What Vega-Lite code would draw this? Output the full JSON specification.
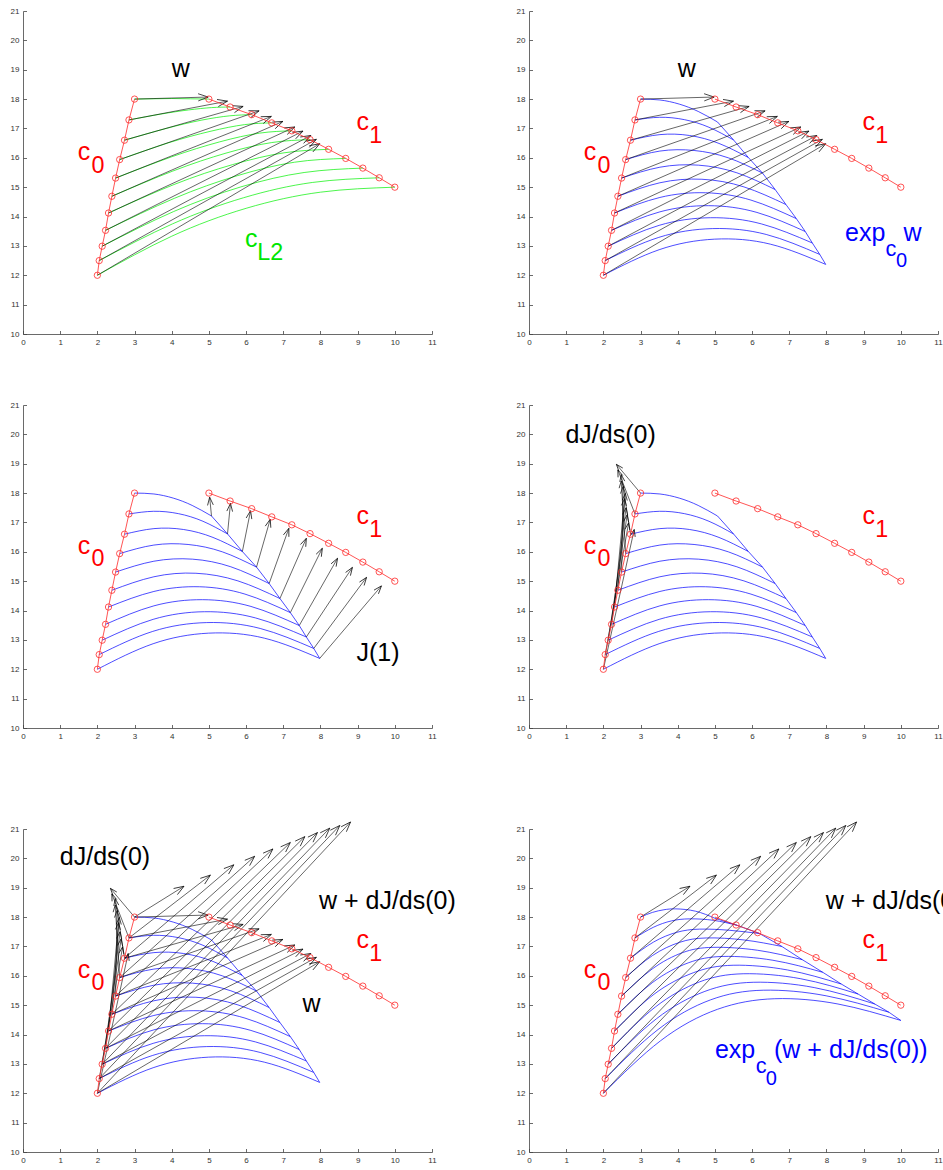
{
"$schema": "https://vega.github.io/schema/vega-lite/v6.json",
"background": "white",
"padding": {"left": 10, "top": 7, "right": 0, "bottom": 0},
"datasets": {
"curves": [
{"curve":"c0","k":0,"x":3.00,"y":18.00},{"curve":"c0","k":1,"x":2.85,"y":17.29},{"curve":"c0","k":2,"x":2.73,"y":16.60},{"curve":"c0","k":3,"x":2.60,"y":15.94},{"curve":"c0","k":4,"x":2.49,"y":15.31},{"curve":"c0","k":5,"x":2.39,"y":14.69},{"curve":"c0","k":6,"x":2.30,"y":14.12},{"curve":"c0","k":7,"x":2.22,"y":13.53},{"curve":"c0","k":8,"x":2.13,"y":12.99},{"curve":"c0","k":9,"x":2.05,"y":12.50},{"curve":"c0","k":10,"x":2.00,"y":12.00},
{"curve":"c1","k":0,"x":5.00,"y":18.00},{"curve":"c1","k":1,"x":5.57,"y":17.73},{"curve":"c1","k":2,"x":6.15,"y":17.47},{"curve":"c1","k":3,"x":6.69,"y":17.19},{"curve":"c1","k":4,"x":7.23,"y":16.92},{"curve":"c1","k":5,"x":7.72,"y":16.62},{"curve":"c1","k":6,"x":8.22,"y":16.29},{"curve":"c1","k":7,"x":8.68,"y":15.98},{"curve":"c1","k":8,"x":9.14,"y":15.65},{"curve":"c1","k":9,"x":9.58,"y":15.32},{"curve":"c1","k":10,"x":10.00,"y":15.00}
],
"w": [
{"k":0,"xt":3.00,"yt":18.00,"x":4.98,"y":18.07},{"k":1,"xt":2.85,"yt":17.29,"x":5.50,"y":17.93},{"k":2,"xt":2.73,"yt":16.60,"x":5.92,"y":17.75},{"k":3,"xt":2.60,"yt":15.94,"x":6.35,"y":17.60},{"k":4,"xt":2.49,"yt":15.31,"x":6.68,"y":17.41},{"k":5,"xt":2.39,"yt":14.69,"x":6.99,"y":17.24},{"k":6,"xt":2.30,"yt":14.12,"x":7.31,"y":17.05},{"k":7,"xt":2.22,"yt":13.53,"x":7.53,"y":16.91},{"k":8,"xt":2.13,"yt":12.99,"x":7.74,"y":16.76},{"k":9,"xt":2.05,"yt":12.50,"x":7.89,"y":16.63},{"k":10,"xt":2.00,"yt":12.00,"x":7.98,"y":16.48}
],
"dj": [
{"k":0,"xt":3.00,"yt":18.00,"x":2.35,"y":18.98},{"k":1,"xt":2.85,"yt":17.29,"x":2.39,"y":18.79},{"k":2,"xt":2.73,"yt":16.60,"x":2.48,"y":18.63},{"k":3,"xt":2.60,"yt":15.94,"x":2.48,"y":18.41},{"k":4,"xt":2.49,"yt":15.31,"x":2.53,"y":18.22},{"k":5,"xt":2.39,"yt":14.69,"x":2.59,"y":17.99},{"k":6,"xt":2.30,"yt":14.12,"x":2.57,"y":17.81},{"k":7,"xt":2.22,"yt":13.53,"x":2.61,"y":17.50},{"k":8,"xt":2.13,"yt":12.99,"x":2.64,"y":17.26},{"k":9,"xt":2.05,"yt":12.50,"x":2.68,"y":16.99},{"k":10,"xt":2.00,"yt":12.00,"x":2.83,"y":16.76}
],
"wdj": [
{"k":0,"xt":3.00,"yt":18.00,"x":4.33,"y":19.05},{"k":1,"xt":2.85,"yt":17.29,"x":5.04,"y":19.43},{"k":2,"xt":2.73,"yt":16.60,"x":5.67,"y":19.78},{"k":3,"xt":2.60,"yt":15.94,"x":6.23,"y":20.07},{"k":4,"xt":2.49,"yt":15.31,"x":6.72,"y":20.32},{"k":5,"xt":2.39,"yt":14.69,"x":7.19,"y":20.54},{"k":6,"xt":2.30,"yt":14.12,"x":7.58,"y":20.74},{"k":7,"xt":2.22,"yt":13.53,"x":7.92,"y":20.88},{"k":8,"xt":2.13,"yt":12.99,"x":8.25,"y":21.03},{"k":9,"xt":2.05,"yt":12.50,"x":8.52,"y":21.12},{"k":10,"xt":2.00,"yt":12.00,"x":8.81,"y":21.24}
],
"jac": [
{"k":0,"xt":5.07,"yt":17.22,"x":5.02,"y":17.86},{"k":1,"xt":5.50,"yt":16.61,"x":5.58,"y":17.65},{"k":2,"xt":5.90,"yt":16.01,"x":6.12,"y":17.40},{"k":3,"xt":6.28,"yt":15.48,"x":6.65,"y":17.11},{"k":4,"xt":6.62,"yt":14.92,"x":7.15,"y":16.80},{"k":5,"xt":6.91,"yt":14.41,"x":7.62,"y":16.46},{"k":6,"xt":7.19,"yt":13.93,"x":8.05,"y":16.12},{"k":7,"xt":7.43,"yt":13.49,"x":8.46,"y":15.78},{"k":8,"xt":7.62,"yt":13.10,"x":8.86,"y":15.47},{"k":9,"xt":7.82,"yt":12.71,"x":9.24,"y":15.13},{"k":10,"xt":7.98,"yt":12.37,"x":9.64,"y":14.84}
],
"green": [
{"k":0,"s":0,"x":3.00,"y":18.00},{"k":0,"s":1,"x":3.50,"y":18.01},{"k":0,"s":2,"x":4.00,"y":18.02},{"k":0,"s":3,"x":4.50,"y":18.01},{"k":0,"s":4,"x":5.00,"y":18.00},
{"k":1,"s":0,"x":2.85,"y":17.29},{"k":1,"s":1,"x":3.71,"y":17.49},{"k":1,"s":2,"x":4.45,"y":17.63},{"k":1,"s":3,"x":5.07,"y":17.71},{"k":1,"s":4,"x":5.57,"y":17.73},
{"k":2,"s":0,"x":2.73,"y":16.60},{"k":2,"s":1,"x":3.85,"y":17.00},{"k":2,"s":2,"x":4.79,"y":17.28},{"k":2,"s":3,"x":5.56,"y":17.43},{"k":2,"s":4,"x":6.15,"y":17.47},
{"k":3,"s":0,"x":2.60,"y":15.94},{"k":3,"s":1,"x":3.91,"y":16.51},{"k":3,"s":2,"x":5.03,"y":16.90},{"k":3,"s":3,"x":5.96,"y":17.13},{"k":3,"s":4,"x":6.69,"y":17.19},
{"k":4,"s":0,"x":2.49,"y":15.31},{"k":4,"s":1,"x":3.99,"y":16.03},{"k":4,"s":2,"x":5.28,"y":16.54},{"k":4,"s":3,"x":6.36,"y":16.84},{"k":4,"s":4,"x":7.23,"y":16.92},
{"k":5,"s":0,"x":2.39,"y":14.69},{"k":5,"s":1,"x":4.03,"y":15.55},{"k":5,"s":2,"x":5.46,"y":16.16},{"k":5,"s":3,"x":6.69,"y":16.52},{"k":5,"s":4,"x":7.72,"y":16.62},
{"k":6,"s":0,"x":2.30,"y":14.12},{"k":6,"s":1,"x":4.06,"y":15.09},{"k":6,"s":2,"x":5.64,"y":15.77},{"k":6,"s":3,"x":7.02,"y":16.17},{"k":6,"s":4,"x":8.22,"y":16.29},
{"k":7,"s":0,"x":2.22,"y":13.53},{"k":7,"s":1,"x":4.07,"y":14.62},{"k":7,"s":2,"x":5.76,"y":15.39},{"k":7,"s":3,"x":7.30,"y":15.85},{"k":7,"s":4,"x":8.68,"y":15.98},
{"k":8,"s":0,"x":2.13,"y":12.99},{"k":8,"s":1,"x":4.05,"y":14.17},{"k":8,"s":2,"x":5.86,"y":15.01},{"k":8,"s":3,"x":7.56,"y":15.50},{"k":8,"s":4,"x":9.14,"y":15.65},
{"k":9,"s":0,"x":2.05,"y":12.50},{"k":9,"s":1,"x":4.02,"y":13.75},{"k":9,"s":2,"x":5.93,"y":14.64},{"k":9,"s":3,"x":7.78,"y":15.16},{"k":9,"s":4,"x":9.58,"y":15.32},
{"k":10,"s":0,"x":2.00,"y":12.00},{"k":10,"s":1,"x":4.00,"y":13.33},{"k":10,"s":2,"x":6.00,"y":14.28},{"k":10,"s":3,"x":8.00,"y":14.83},{"k":10,"s":4,"x":10.00,"y":15.00}
],
"geo1": [
{"k":0,"s":0,"x":3.00,"y":18.00},{"k":0,"s":1,"x":3.52,"y":17.97},{"k":0,"s":2,"x":4.04,"y":17.83},{"k":0,"s":3,"x":4.55,"y":17.58},{"k":0,"s":4,"x":5.07,"y":17.22},
{"k":1,"s":0,"x":2.85,"y":17.29},{"k":1,"s":1,"x":3.51,"y":17.38},{"k":1,"s":2,"x":4.18,"y":17.30},{"k":1,"s":3,"x":4.84,"y":17.04},{"k":1,"s":4,"x":5.50,"y":16.61},
{"k":2,"s":0,"x":2.73,"y":16.60},{"k":2,"s":1,"x":3.52,"y":16.79},{"k":2,"s":2,"x":4.32,"y":16.76},{"k":2,"s":3,"x":5.11,"y":16.49},{"k":2,"s":4,"x":5.90,"y":16.01},
{"k":3,"s":0,"x":2.60,"y":15.94},{"k":3,"s":1,"x":3.52,"y":16.23},{"k":3,"s":2,"x":4.44,"y":16.25},{"k":3,"s":3,"x":5.36,"y":16.00},{"k":3,"s":4,"x":6.28,"y":15.48},
{"k":4,"s":0,"x":2.49,"y":15.31},{"k":4,"s":1,"x":3.52,"y":15.68},{"k":4,"s":2,"x":4.56,"y":15.75},{"k":4,"s":3,"x":5.59,"y":15.49},{"k":4,"s":4,"x":6.62,"y":14.92},
{"k":5,"s":0,"x":2.39,"y":14.69},{"k":5,"s":1,"x":3.52,"y":15.15},{"k":5,"s":2,"x":4.65,"y":15.27},{"k":5,"s":3,"x":5.78,"y":15.01},{"k":5,"s":4,"x":6.91,"y":14.41},
{"k":6,"s":0,"x":2.30,"y":14.12},{"k":6,"s":1,"x":3.52,"y":14.65},{"k":6,"s":2,"x":4.75,"y":14.81},{"k":6,"s":3,"x":5.97,"y":14.56},{"k":6,"s":4,"x":7.19,"y":13.93},
{"k":7,"s":0,"x":2.22,"y":13.53},{"k":7,"s":1,"x":3.52,"y":14.16},{"k":7,"s":2,"x":4.83,"y":14.37},{"k":7,"s":3,"x":6.13,"y":14.14},{"k":7,"s":4,"x":7.43,"y":13.49},
{"k":8,"s":0,"x":2.13,"y":12.99},{"k":8,"s":1,"x":3.50,"y":13.70},{"k":8,"s":2,"x":4.88,"y":13.96},{"k":8,"s":3,"x":6.25,"y":13.75},{"k":8,"s":4,"x":7.62,"y":13.10},
{"k":9,"s":0,"x":2.05,"y":12.50},{"k":9,"s":1,"x":3.49,"y":13.29},{"k":9,"s":2,"x":4.94,"y":13.59},{"k":9,"s":3,"x":6.38,"y":13.39},{"k":9,"s":4,"x":7.82,"y":12.71},
{"k":10,"s":0,"x":2.00,"y":12.00},{"k":10,"s":1,"x":3.50,"y":12.87},{"k":10,"s":2,"x":4.99,"y":13.23},{"k":10,"s":3,"x":6.49,"y":13.06},{"k":10,"s":4,"x":7.98,"y":12.37}
],
"env1": [
{"k":0,"x":5.07,"y":17.22},{"k":1,"x":5.50,"y":16.61},{"k":2,"x":5.90,"y":16.01},{"k":3,"x":6.28,"y":15.48},{"k":4,"x":6.62,"y":14.92},{"k":5,"x":6.91,"y":14.41},{"k":6,"x":7.19,"y":13.93},{"k":7,"x":7.43,"y":13.49},{"k":8,"x":7.62,"y":13.10},{"k":9,"x":7.82,"y":12.71},{"k":10,"x":7.98,"y":12.37}
],
"geo2": [
{"k":0,"s":0,"x":3.00,"y":18.00},{"k":0,"s":1,"x":3.32,"y":18.16},{"k":0,"s":2,"x":3.63,"y":18.25},{"k":0,"s":3,"x":3.95,"y":18.28},{"k":0,"s":4,"x":4.48,"y":18.20},{"k":0,"s":5,"x":5.00,"y":17.96},
{"k":1,"s":0,"x":2.85,"y":17.29},{"k":1,"s":1,"x":3.34,"y":17.65},{"k":1,"s":2,"x":3.83,"y":17.87},{"k":1,"s":3,"x":4.32,"y":17.94},{"k":1,"s":4,"x":4.96,"y":17.89},{"k":1,"s":5,"x":5.60,"y":17.72},
{"k":2,"s":0,"x":2.73,"y":16.60},{"k":2,"s":1,"x":3.35,"y":17.15},{"k":2,"s":2,"x":3.97,"y":17.48},{"k":2,"s":3,"x":4.59,"y":17.59},{"k":2,"s":4,"x":5.40,"y":17.55},{"k":2,"s":5,"x":6.20,"y":17.44},
{"k":3,"s":0,"x":2.60,"y":15.94},{"k":3,"s":1,"x":3.32,"y":16.69},{"k":3,"s":2,"x":4.05,"y":17.14},{"k":3,"s":3,"x":4.77,"y":17.29},{"k":3,"s":4,"x":5.79,"y":17.22},{"k":3,"s":5,"x":6.80,"y":17.00},
{"k":4,"s":0,"x":2.49,"y":15.31},{"k":4,"s":1,"x":3.31,"y":16.23},{"k":4,"s":2,"x":4.13,"y":16.79},{"k":4,"s":3,"x":4.95,"y":16.97},{"k":4,"s":4,"x":6.15,"y":16.87},{"k":4,"s":5,"x":7.35,"y":16.55},
{"k":5,"s":0,"x":2.39,"y":14.69},{"k":5,"s":1,"x":3.33,"y":15.78},{"k":5,"s":2,"x":4.28,"y":16.44},{"k":5,"s":3,"x":5.22,"y":16.66},{"k":5,"s":4,"x":6.56,"y":16.53},{"k":5,"s":5,"x":7.90,"y":16.12},
{"k":6,"s":0,"x":2.30,"y":14.12},{"k":6,"s":1,"x":3.36,"y":15.37},{"k":6,"s":2,"x":4.43,"y":16.11},{"k":6,"s":3,"x":5.49,"y":16.36},{"k":6,"s":4,"x":6.95,"y":16.20},{"k":6,"s":5,"x":8.40,"y":15.72},
{"k":7,"s":0,"x":2.22,"y":13.53},{"k":7,"s":1,"x":3.40,"y":14.94},{"k":7,"s":2,"x":4.58,"y":15.79},{"k":7,"s":3,"x":5.76,"y":16.07},{"k":7,"s":4,"x":7.31,"y":15.90},{"k":7,"s":5,"x":8.85,"y":15.38},
{"k":8,"s":0,"x":2.13,"y":12.99},{"k":8,"s":1,"x":3.43,"y":14.54},{"k":8,"s":2,"x":4.73,"y":15.47},{"k":8,"s":3,"x":6.03,"y":15.78},{"k":8,"s":4,"x":7.67,"y":15.60},{"k":8,"s":5,"x":9.30,"y":15.04},
{"k":9,"s":0,"x":2.05,"y":12.50},{"k":9,"s":1,"x":3.47,"y":14.17},{"k":9,"s":2,"x":4.88,"y":15.18},{"k":9,"s":3,"x":6.30,"y":15.51},{"k":9,"s":4,"x":7.99,"y":15.32},{"k":9,"s":5,"x":9.68,"y":14.76},
{"k":10,"s":0,"x":2.00,"y":12.00},{"k":10,"s":1,"x":3.54,"y":13.79},{"k":10,"s":2,"x":5.07,"y":14.86},{"k":10,"s":3,"x":6.61,"y":15.22},{"k":10,"s":4,"x":8.31,"y":15.04},{"k":10,"s":5,"x":10.00,"y":14.48}
],
"env2": [
{"k":0,"x":5.00,"y":17.96},{"k":1,"x":5.60,"y":17.72},{"k":2,"x":6.20,"y":17.44},{"k":3,"x":6.80,"y":17.00},{"k":4,"x":7.35,"y":16.55},{"k":5,"x":7.90,"y":16.12},{"k":6,"x":8.40,"y":15.72},{"k":7,"x":8.85,"y":15.38},{"k":8,"x":9.30,"y":15.04},{"k":9,"x":9.68,"y":14.76},{"k":10,"x":10.00,"y":14.48}
],
"labels": [
{"p":1,"t":"w","x":4.00,"y":18.76,"series":"vec","kind":"main"},
{"p":1,"t":"c","x":1.47,"y":15.91,"series":"c","kind":"main"},{"p":1,"t":"0","x":1.84,"y":15.48,"series":"c","kind":"sub"},
{"p":1,"t":"c","x":8.97,"y":16.94,"series":"c","kind":"main"},{"p":1,"t":"1","x":9.31,"y":16.51,"series":"c","kind":"sub"},
{"p":1,"t":"c","x":5.97,"y":12.96,"series":"L2","kind":"main"},{"p":1,"t":"L2","x":6.30,"y":12.52,"series":"L2","kind":"sub"},
{"p":2,"t":"w","x":4.00,"y":18.76,"series":"vec","kind":"main"},
{"p":2,"t":"c","x":1.47,"y":15.91,"series":"c","kind":"main"},{"p":2,"t":"0","x":1.84,"y":15.48,"series":"c","kind":"sub"},
{"p":2,"t":"c","x":8.97,"y":16.94,"series":"c","kind":"main"},{"p":2,"t":"1","x":9.31,"y":16.51,"series":"c","kind":"sub"},
{"p":2,"t":"exp","x":8.50,"y":13.18,"series":"exp","kind":"main"},{"p":2,"t":"c","x":9.59,"y":12.67,"series":"exp","kind":"sub1"},{"p":2,"t":"0","x":9.87,"y":12.27,"series":"exp","kind":"sub2"},{"p":2,"t":"w","x":10.07,"y":13.16,"series":"exp","kind":"main"},
{"p":3,"t":"c","x":1.47,"y":15.93,"series":"c","kind":"main"},{"p":3,"t":"0","x":1.84,"y":15.52,"series":"c","kind":"sub"},
{"p":3,"t":"c","x":8.97,"y":16.95,"series":"c","kind":"main"},{"p":3,"t":"1","x":9.31,"y":16.52,"series":"c","kind":"sub"},
{"p":3,"t":"J(1)","x":8.97,"y":12.27,"series":"vec","kind":"main"},
{"p":4,"t":"dJ/ds(0)","x":0.98,"y":19.72,"series":"vec","kind":"main"},
{"p":4,"t":"c","x":1.47,"y":15.93,"series":"c","kind":"main"},{"p":4,"t":"0","x":1.84,"y":15.52,"series":"c","kind":"sub"},
{"p":4,"t":"c","x":8.97,"y":16.95,"series":"c","kind":"main"},{"p":4,"t":"1","x":9.31,"y":16.52,"series":"c","kind":"sub"},
{"p":5,"t":"dJ/ds(0)","x":0.99,"y":19.79,"series":"vec","kind":"main"},
{"p":5,"t":"w + dJ/ds(0)","x":7.96,"y":18.28,"series":"vec","kind":"main"},
{"p":5,"t":"w","x":7.52,"y":14.77,"series":"vec","kind":"main"},
{"p":5,"t":"c","x":1.47,"y":15.93,"series":"c","kind":"main"},{"p":5,"t":"0","x":1.84,"y":15.51,"series":"c","kind":"sub"},
{"p":5,"t":"c","x":8.97,"y":16.95,"series":"c","kind":"main"},{"p":5,"t":"1","x":9.31,"y":16.52,"series":"c","kind":"sub"},
{"p":6,"t":"w + dJ/ds(0)","x":7.98,"y":18.28,"series":"vec","kind":"main"},
{"p":6,"t":"c","x":1.47,"y":15.93,"series":"c","kind":"main"},{"p":6,"t":"0","x":1.84,"y":15.51,"series":"c","kind":"sub"},
{"p":6,"t":"c","x":8.97,"y":16.95,"series":"c","kind":"main"},{"p":6,"t":"1","x":9.31,"y":16.52,"series":"c","kind":"sub"},
{"p":6,"t":"exp","x":5.00,"y":13.20,"series":"exp","kind":"main"},{"p":6,"t":"c","x":6.10,"y":12.69,"series":"exp","kind":"sub1"},{"p":6,"t":"0","x":6.37,"y":12.29,"series":"exp","kind":"sub2"},{"p":6,"t":"(w + dJ/ds(0))","x":6.59,"y":13.20,"series":"exp","kind":"main"}
]
},
"columns": 2,
"spacing": {"row": 71, "column": 97},
"bounds": "flush",
"concat": [
{
"width": 409, "height": 323,
"encoding": {
"x": {"field":"x","type":"quantitative","scale":{"domain":[0,11],"nice":false,"zero":false},"axis":{"title":null,"values":[0,1,2,3,4,5,6,7,8,9,10,11]}},
"y": {"field":"y","type":"quantitative","scale":{"domain":[10,21],"nice":false,"zero":false},"axis":{"title":null,"values":[10,11,12,13,14,15,16,17,18,19,20,21]}}
},
"layer": [
{"data":{"name":"green"},"mark":{"type":"line","color":"#00f000","strokeWidth":0.7,"interpolate":"natural"},"encoding":{"detail":{"field":"k"},"order":{"field":"s","type":"quantitative"}}},
{"data":{"name":"w"},"mark":{"type":"rule","color":"#000000","strokeWidth":0.6},"encoding":{"x2":{"field":"xt"},"y2":{"field":"yt"}}},
{"data":{"name":"w"},"transform":[{"calculate":"atan2(-(datum.y-datum.yt)*29.36,(datum.x-datum.xt)*37.18)*180/PI","as":"ang"}],"mark":{"type":"point","shape":"M-1,-0.36L0,0L-1,0.36","size":400,"filled":false,"color":"#000000","strokeWidth":0.7,"opacity":1},"encoding":{"angle":{"field":"ang","type":"quantitative","scale":null}}},
{"data":{"name":"curves"},"mark":{"type":"line","color":"#ff2a2a","strokeWidth":0.8},"encoding":{"detail":{"field":"curve"},"order":{"field":"k","type":"quantitative"}}},
{"data":{"name":"curves"},"mark":{"type":"point","shape":"circle","size":40,"filled":false,"color":"#ff2a2a","strokeWidth":0.8,"opacity":1}},
{"data":{"name":"labels"},"transform":[{"filter":"datum.p == 1"}],"mark":{"type":"text","align":"left","baseline":"alphabetic","font":"Liberation Sans"},"encoding":{"text":{"field":"t"},"color":{"field":"series","type":"nominal","scale":{"domain":["c","L2","exp","vec"],"range":["#ff0000","#00e600","#0000ff","#000000"]},"legend":null},"size":{"field":"kind","type":"ordinal","scale":{"domain":["main","sub","sub1","sub2"],"range":[25,20,17,14]},"legend":null}}}
]
},
{
"width": 409, "height": 323,
"encoding": {
"x": {"field":"x","type":"quantitative","scale":{"domain":[0,11],"nice":false,"zero":false},"axis":{"title":null,"values":[0,1,2,3,4,5,6,7,8,9,10,11]}},
"y": {"field":"y","type":"quantitative","scale":{"domain":[10,21],"nice":false,"zero":false},"axis":{"title":null,"values":[10,11,12,13,14,15,16,17,18,19,20,21]}}
},
"layer": [
{"data":{"name":"geo1"},"mark":{"type":"line","color":"#0000ff","strokeWidth":0.7,"interpolate":"natural"},"encoding":{"detail":{"field":"k"},"order":{"field":"s","type":"quantitative"}}},
{"data":{"name":"env1"},"mark":{"type":"line","color":"#0000ff","strokeWidth":0.7},"encoding":{"order":{"field":"k","type":"quantitative"}}},
{"data":{"name":"w"},"mark":{"type":"rule","color":"#000000","strokeWidth":0.6},"encoding":{"x2":{"field":"xt"},"y2":{"field":"yt"}}},
{"data":{"name":"w"},"transform":[{"calculate":"atan2(-(datum.y-datum.yt)*29.36,(datum.x-datum.xt)*37.18)*180/PI","as":"ang"}],"mark":{"type":"point","shape":"M-1,-0.36L0,0L-1,0.36","size":400,"filled":false,"color":"#000000","strokeWidth":0.7,"opacity":1},"encoding":{"angle":{"field":"ang","type":"quantitative","scale":null}}},
{"data":{"name":"curves"},"mark":{"type":"line","color":"#ff2a2a","strokeWidth":0.8},"encoding":{"detail":{"field":"curve"},"order":{"field":"k","type":"quantitative"}}},
{"data":{"name":"curves"},"mark":{"type":"point","shape":"circle","size":40,"filled":false,"color":"#ff2a2a","strokeWidth":0.8,"opacity":1}},
{"data":{"name":"labels"},"transform":[{"filter":"datum.p == 2"}],"mark":{"type":"text","align":"left","baseline":"alphabetic","font":"Liberation Sans"},"encoding":{"text":{"field":"t"},"color":{"field":"series","type":"nominal","scale":{"domain":["c","L2","exp","vec"],"range":["#ff0000","#00e600","#0000ff","#000000"]},"legend":null},"size":{"field":"kind","type":"ordinal","scale":{"domain":["main","sub","sub1","sub2"],"range":[25,20,17,14]},"legend":null}}}
]
},
{
"width": 409, "height": 323,
"encoding": {
"x": {"field":"x","type":"quantitative","scale":{"domain":[0,11],"nice":false,"zero":false},"axis":{"title":null,"values":[0,1,2,3,4,5,6,7,8,9,10,11]}},
"y": {"field":"y","type":"quantitative","scale":{"domain":[10,21],"nice":false,"zero":false},"axis":{"title":null,"values":[10,11,12,13,14,15,16,17,18,19,20,21]}}
},
"layer": [
{"data":{"name":"geo1"},"mark":{"type":"line","color":"#0000ff","strokeWidth":0.7,"interpolate":"natural"},"encoding":{"detail":{"field":"k"},"order":{"field":"s","type":"quantitative"}}},
{"data":{"name":"env1"},"mark":{"type":"line","color":"#0000ff","strokeWidth":0.7},"encoding":{"order":{"field":"k","type":"quantitative"}}},
{"data":{"name":"jac"},"mark":{"type":"rule","color":"#000000","strokeWidth":0.6},"encoding":{"x2":{"field":"xt"},"y2":{"field":"yt"}}},
{"data":{"name":"jac"},"transform":[{"calculate":"atan2(-(datum.y-datum.yt)*29.36,(datum.x-datum.xt)*37.18)*180/PI","as":"ang"}],"mark":{"type":"point","shape":"M-1,-0.36L0,0L-1,0.36","size":256,"filled":false,"color":"#000000","strokeWidth":0.7,"opacity":1},"encoding":{"angle":{"field":"ang","type":"quantitative","scale":null}}},
{"data":{"name":"curves"},"mark":{"type":"line","color":"#ff2a2a","strokeWidth":0.8},"encoding":{"detail":{"field":"curve"},"order":{"field":"k","type":"quantitative"}}},
{"data":{"name":"curves"},"mark":{"type":"point","shape":"circle","size":40,"filled":false,"color":"#ff2a2a","strokeWidth":0.8,"opacity":1}},
{"data":{"name":"labels"},"transform":[{"filter":"datum.p == 3"}],"mark":{"type":"text","align":"left","baseline":"alphabetic","font":"Liberation Sans"},"encoding":{"text":{"field":"t"},"color":{"field":"series","type":"nominal","scale":{"domain":["c","L2","exp","vec"],"range":["#ff0000","#00e600","#0000ff","#000000"]},"legend":null},"size":{"field":"kind","type":"ordinal","scale":{"domain":["main","sub","sub1","sub2"],"range":[25,20,17,14]},"legend":null}}}
]
},
{
"width": 409, "height": 323,
"encoding": {
"x": {"field":"x","type":"quantitative","scale":{"domain":[0,11],"nice":false,"zero":false},"axis":{"title":null,"values":[0,1,2,3,4,5,6,7,8,9,10,11]}},
"y": {"field":"y","type":"quantitative","scale":{"domain":[10,21],"nice":false,"zero":false},"axis":{"title":null,"values":[10,11,12,13,14,15,16,17,18,19,20,21]}}
},
"layer": [
{"data":{"name":"geo1"},"mark":{"type":"line","color":"#0000ff","strokeWidth":0.7,"interpolate":"natural"},"encoding":{"detail":{"field":"k"},"order":{"field":"s","type":"quantitative"}}},
{"data":{"name":"env1"},"mark":{"type":"line","color":"#0000ff","strokeWidth":0.7},"encoding":{"order":{"field":"k","type":"quantitative"}}},
{"data":{"name":"dj"},"mark":{"type":"rule","color":"#000000","strokeWidth":0.6},"encoding":{"x2":{"field":"xt"},"y2":{"field":"yt"}}},
{"data":{"name":"dj"},"transform":[{"calculate":"atan2(-(datum.y-datum.yt)*29.36,(datum.x-datum.xt)*37.18)*180/PI","as":"ang"}],"mark":{"type":"point","shape":"M-1,-0.36L0,0L-1,0.36","size":196,"filled":false,"color":"#000000","strokeWidth":0.7,"opacity":1},"encoding":{"angle":{"field":"ang","type":"quantitative","scale":null}}},
{"data":{"name":"curves"},"mark":{"type":"line","color":"#ff2a2a","strokeWidth":0.8},"encoding":{"detail":{"field":"curve"},"order":{"field":"k","type":"quantitative"}}},
{"data":{"name":"curves"},"mark":{"type":"point","shape":"circle","size":40,"filled":false,"color":"#ff2a2a","strokeWidth":0.8,"opacity":1}},
{"data":{"name":"labels"},"transform":[{"filter":"datum.p == 4"}],"mark":{"type":"text","align":"left","baseline":"alphabetic","font":"Liberation Sans"},"encoding":{"text":{"field":"t"},"color":{"field":"series","type":"nominal","scale":{"domain":["c","L2","exp","vec"],"range":["#ff0000","#00e600","#0000ff","#000000"]},"legend":null},"size":{"field":"kind","type":"ordinal","scale":{"domain":["main","sub","sub1","sub2"],"range":[25,20,17,14]},"legend":null}}}
]
},
{
"width": 409, "height": 353,
"encoding": {
"x": {"field":"x","type":"quantitative","scale":{"domain":[0,11],"nice":false,"zero":false},"axis":{"title":null,"values":[0,1,2,3,4,5,6,7,8,9,10,11]}},
"y": {"field":"y","type":"quantitative","scale":{"domain":[10,21],"nice":false,"zero":false,"range":[353,30]},"axis":{"title":null,"values":[10,11,12,13,14,15,16,17,18,19,20,21]}}
},
"layer": [
{"data":{"name":"geo1"},"mark":{"type":"line","color":"#0000ff","strokeWidth":0.7,"interpolate":"natural"},"encoding":{"detail":{"field":"k"},"order":{"field":"s","type":"quantitative"}}},
{"data":{"name":"env1"},"mark":{"type":"line","color":"#0000ff","strokeWidth":0.7},"encoding":{"order":{"field":"k","type":"quantitative"}}},
{"data":{"name":"w"},"mark":{"type":"rule","color":"#000000","strokeWidth":0.6},"encoding":{"x2":{"field":"xt"},"y2":{"field":"yt"}}},
{"data":{"name":"w"},"transform":[{"calculate":"atan2(-(datum.y-datum.yt)*29.36,(datum.x-datum.xt)*37.18)*180/PI","as":"ang"}],"mark":{"type":"point","shape":"M-1,-0.36L0,0L-1,0.36","size":400,"filled":false,"color":"#000000","strokeWidth":0.7,"opacity":1},"encoding":{"angle":{"field":"ang","type":"quantitative","scale":null}}},
{"data":{"name":"dj"},"mark":{"type":"rule","color":"#000000","strokeWidth":0.6},"encoding":{"x2":{"field":"xt"},"y2":{"field":"yt"}}},
{"data":{"name":"dj"},"transform":[{"calculate":"atan2(-(datum.y-datum.yt)*29.36,(datum.x-datum.xt)*37.18)*180/PI","as":"ang"}],"mark":{"type":"point","shape":"M-1,-0.36L0,0L-1,0.36","size":196,"filled":false,"color":"#000000","strokeWidth":0.7,"opacity":1},"encoding":{"angle":{"field":"ang","type":"quantitative","scale":null}}},
{"data":{"name":"wdj"},"mark":{"type":"rule","color":"#000000","strokeWidth":0.6},"encoding":{"x2":{"field":"xt"},"y2":{"field":"yt"}}},
{"data":{"name":"wdj"},"transform":[{"calculate":"atan2(-(datum.y-datum.yt)*29.36,(datum.x-datum.xt)*37.18)*180/PI","as":"ang"}],"mark":{"type":"point","shape":"M-1,-0.36L0,0L-1,0.36","size":400,"filled":false,"color":"#000000","strokeWidth":0.7,"opacity":1},"encoding":{"angle":{"field":"ang","type":"quantitative","scale":null}}},
{"data":{"name":"curves"},"mark":{"type":"line","color":"#ff2a2a","strokeWidth":0.8},"encoding":{"detail":{"field":"curve"},"order":{"field":"k","type":"quantitative"}}},
{"data":{"name":"curves"},"mark":{"type":"point","shape":"circle","size":40,"filled":false,"color":"#ff2a2a","strokeWidth":0.8,"opacity":1}},
{"data":{"name":"labels"},"transform":[{"filter":"datum.p == 5"}],"mark":{"type":"text","align":"left","baseline":"alphabetic","font":"Liberation Sans"},"encoding":{"text":{"field":"t"},"color":{"field":"series","type":"nominal","scale":{"domain":["c","L2","exp","vec"],"range":["#ff0000","#00e600","#0000ff","#000000"]},"legend":null},"size":{"field":"kind","type":"ordinal","scale":{"domain":["main","sub","sub1","sub2"],"range":[25,20,17,14]},"legend":null}}}
]
},
{
"width": 409, "height": 353,
"encoding": {
"x": {"field":"x","type":"quantitative","scale":{"domain":[0,11],"nice":false,"zero":false},"axis":{"title":null,"values":[0,1,2,3,4,5,6,7,8,9,10,11]}},
"y": {"field":"y","type":"quantitative","scale":{"domain":[10,21],"nice":false,"zero":false,"range":[353,30]},"axis":{"title":null,"values":[10,11,12,13,14,15,16,17,18,19,20,21]}}
},
"layer": [
{"data":{"name":"geo2"},"mark":{"type":"line","color":"#0000ff","strokeWidth":0.7,"interpolate":"natural"},"encoding":{"detail":{"field":"k"},"order":{"field":"s","type":"quantitative"}}},
{"data":{"name":"env2"},"mark":{"type":"line","color":"#0000ff","strokeWidth":0.7},"encoding":{"order":{"field":"k","type":"quantitative"}}},
{"data":{"name":"wdj"},"mark":{"type":"rule","color":"#000000","strokeWidth":0.6},"encoding":{"x2":{"field":"xt"},"y2":{"field":"yt"}}},
{"data":{"name":"wdj"},"transform":[{"calculate":"atan2(-(datum.y-datum.yt)*29.36,(datum.x-datum.xt)*37.18)*180/PI","as":"ang"}],"mark":{"type":"point","shape":"M-1,-0.36L0,0L-1,0.36","size":400,"filled":false,"color":"#000000","strokeWidth":0.7,"opacity":1},"encoding":{"angle":{"field":"ang","type":"quantitative","scale":null}}},
{"data":{"name":"curves"},"mark":{"type":"line","color":"#ff2a2a","strokeWidth":0.8},"encoding":{"detail":{"field":"curve"},"order":{"field":"k","type":"quantitative"}}},
{"data":{"name":"curves"},"mark":{"type":"point","shape":"circle","size":40,"filled":false,"color":"#ff2a2a","strokeWidth":0.8,"opacity":1}},
{"data":{"name":"labels"},"transform":[{"filter":"datum.p == 6"}],"mark":{"type":"text","align":"left","baseline":"alphabetic","font":"Liberation Sans"},"encoding":{"text":{"field":"t"},"color":{"field":"series","type":"nominal","scale":{"domain":["c","L2","exp","vec"],"range":["#ff0000","#00e600","#0000ff","#000000"]},"legend":null},"size":{"field":"kind","type":"ordinal","scale":{"domain":["main","sub","sub1","sub2"],"range":[25,20,17,14]},"legend":null}}}
]
}
],
"config": {
"view": {"stroke": null},
"axis": {"grid": false, "domainColor": "#444444", "tickColor": "#444444", "labelColor": "#333333", "labelFont": "Liberation Sans", "labelFontSize": 8, "tickSize": -3.5, "labelPadding": 7.5, "domainWidth": 0.8, "tickWidth": 0.8, "labelFlush": false, "labelOverlap": false},
"text": {"font": "Liberation Sans"}
}
}
